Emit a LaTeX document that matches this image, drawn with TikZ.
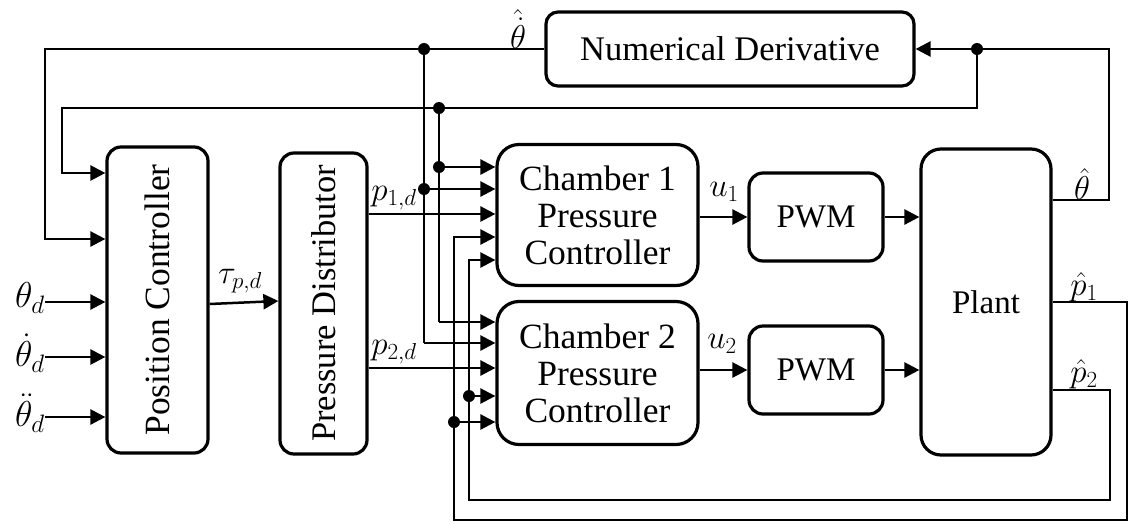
\documentclass[tikz,border=0pt]{standalone}
\usepackage{fix-cm}
\usepackage{fontspec}
\setmainfont{Liberation Serif}
\usetikzlibrary{arrows.meta}
\begin{document}
\begin{tikzpicture}[x=1pt,y=-1pt,
  blk/.style={draw, line width=3.2pt, rounded corners=14pt, inner sep=0pt, align=center},
  txt/.style={font=\fontsize{33}{37}\selectfont, inner sep=0pt, align=center},
  big/.style={font=\fontsize{35.5}{37}\selectfont},
  lbl/.style={font=\fontsize{33}{36}\selectfont, inner sep=0pt},
  conn/.style={line width=2.5pt},
  arr/.style={conn, -{Triangle[length=15pt,width=15pt]}},
  dotn/.style={circle, fill, inner sep=0pt, minimum size=12pt}]
\useasboundingbox (0,0) rectangle (1130,523);

% blocks
\node[blk, minimum width=101pt, minimum height=306pt] (PC) at (157.5,300) {};
\node[txt, rotate=90, big] (PCt) at (PC.center) {Position Controller};
\node[blk, minimum width=87pt, minimum height=301pt] (PD) at (323.5,303.5) {};
\node[txt, rotate=90, font=\fontsize{34.5}{37}\selectfont] (PDt) at (PD.center) {Pressure Distributor};
\node[blk, txt, big, rounded corners=22pt, minimum width=201pt, minimum height=141pt] (C1) at (597.5,215) {Chamber 1\\Pressure\\Controller};
\node[blk, txt, big, rounded corners=22pt, minimum width=201pt, minimum height=143pt] (C2) at (597.5,373) {Chamber 2\\Pressure\\Controller};
\node[blk, txt, minimum width=134pt, minimum height=88pt] (PWM1) at (816,217) {PWM};
\node[blk, txt, minimum width=134pt, minimum height=88pt] (PWM2) at (816,370) {PWM};
\node[blk, txt, rounded corners=20pt, minimum width=130pt, minimum height=306pt] (Plant) at (986,302) {Plant};
\node[blk, txt, font=\fontsize{34.5}{37}\selectfont, rounded corners=12pt, minimum width=368pt, minimum height=74pt] (ND) at (730,49) {Numerical Derivative};

% labels
\node[lbl] (lthd) at (518,29) {$\hat{\dot{\theta}}$};
\node[lbl] (lth) at (1082,184) {$\hat{\theta}$};
\node[lbl] (lp1) at (1084,287) {$\hat{p}_1$};
\node[lbl] (lp2) at (1084,374) {$\hat{p}_2$};
\node[lbl] (lu1) at (724,192) {$u_1$};
\node[lbl] (lu2) at (722,344) {$u_2$};
\node[lbl] (lp1d) at (394,198) {$p_{1,d}$};
\node[lbl] (lp2d) at (394,352) {$p_{2,d}$};
\node[lbl] (ltau) at (240,281) {$\tau_{p,d}$};

% inputs
\coordinate (i1) at (45,302);
\coordinate (i2) at (45,357);
\coordinate (i3) at (45,417);
\node[lbl, anchor=east, font=\fontsize{36}{38}\selectfont] (lth1) at ([yshift=4pt]i1) {$\theta_d$};
\node[lbl, anchor=east, font=\fontsize{36}{38}\selectfont] (lth2) at ([yshift=4pt]i2) {$\dot{\theta}_d$};
\node[lbl, anchor=east, font=\fontsize{36}{38}\selectfont] (lth3) at ([yshift=4pt]i3) {$\ddot{\theta}_d$};
\draw[arr] (i1) -- (i1 -| PC.west);
\draw[arr] (i2) -- (i2 -| PC.west);
\draw[arr] (i3) -- (i3 -| PC.west);

% PC -> PD
\coordinate (t1) at (208,304);
\coordinate (t2) at (280,301);
\draw[arr] (t1 -| PC.east) -- (t2 -| PD.west);

% theta-hat-dot feedback
\coordinate (a1) at (45,239);
\draw[arr] (ND.west) -| (a1) -- (a1 -| PC.west);
\node[dotn] (d1) at (424,49) {};
\coordinate (v1b) at (424,343);
\draw[conn] (d1.center) -- (v1b);
\draw[arr] (v1b) -- (v1b -| C2.west);
\node[dotn] (d1b) at (424,189) {};
\draw[arr] (d1b.center) -- (d1b -| C1.west);

% theta-hat feedback
\coordinate (r1) at (1109,200);
\draw[arr] (Plant.east |- r1) -- (r1) |- (ND.east);
\node[dotn] (d2) at (977,49) {};
\coordinate (b2) at (977,108);
\coordinate (l2) at (62,173);
\draw[arr] (d2.center) -- (b2) -| (l2) -- (l2 -| PC.west);
\node[dotn] (d3) at (439,108) {};
\coordinate (v2b) at (439,322);
\draw[conn] (d3.center) -- (v2b);
\draw[arr] (v2b) -- (v2b -| C2.west);
\node[dotn] (d3b) at (439,167) {};
\draw[arr] (d3b.center) -- (d3b -| C1.west);

% desired pressures
\coordinate (pd1) at (367,214);
\coordinate (pd2) at (367,368);
\draw[arr] (pd1 -| PD.east) -- (pd1 -| C1.west);
\draw[arr] (pd2 -| PD.east) -- (pd2 -| C2.west);

% p1 hat feedback
\coordinate (q1) at (1127,302);
\coordinate (q1b) at (454,520);
\coordinate (q1t) at (454,237);
\draw[arr] (Plant.east |- q1) -- (q1) |- (q1b) -- (q1t) -- (q1t -| C1.west);
\node[dotn] (d4) at (454,422) {};
\draw[arr] (d4.center) -- (d4 -| C2.west);

% p2 hat feedback
\coordinate (q2) at (1110,390);
\coordinate (q2b) at (469,500);
\coordinate (q2t) at (469,260);
\draw[arr] (Plant.east |- q2) -- (q2) |- (q2b) -- (q2t) -- (q2t -| C1.west);
\node[dotn] (d5) at (469,396) {};
\draw[arr] (d5.center) -- (d5 -| C2.west);

% controllers -> PWM -> plant
\draw[arr] (C1.east |- PWM1) -- (PWM1.west);
\draw[arr] (PWM1.east) -- (Plant.west |- PWM1);
\draw[arr] (C2.east |- PWM2) -- (PWM2.west);
\draw[arr] (PWM2.east) -- (Plant.west |- PWM2);
\end{tikzpicture}
\end{document}
